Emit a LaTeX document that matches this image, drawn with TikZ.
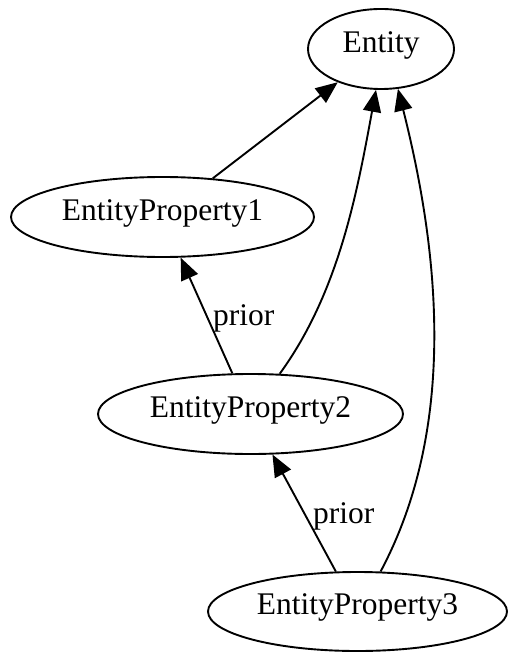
\documentclass[tikz,border=0pt]{standalone}
\usepackage{fontspec}
\setmainfont{Liberation Serif}
\usetikzlibrary{arrows.meta,shapes.geometric}
\begin{document}
\begin{tikzpicture}[x=1pt,y=-1pt,
  ent/.style={draw, ellipse, line width=1.9pt, inner sep=0pt,
    font=\fontsize{31.5}{36}\selectfont, text height=0.68em, text depth=0pt},
  arr/.style={line width=1.9pt, -{Triangle[length=22pt,width=18pt]}},
  lbl/.style={font=\fontsize{31.5}{36}\selectfont, anchor=base west, inner sep=0pt}]
\path[use as bounding box] (0,0) rectangle (508,652);
\node[ent, minimum width=146pt, minimum height=80pt] (e) at (381,49) {Entity};
\node[ent, minimum width=303pt, minimum height=80pt] (p1) at (162.5,217) {EntityProperty1};
\node[ent, minimum width=305pt, minimum height=80pt] (p2) at (250.5,414) {EntityProperty2};
\node[ent, minimum width=299pt, minimum height=79pt] (p3) at (357.5,611.5) {EntityProperty3};
\draw[arr] (p1) -- (e);
\draw[arr] (p2) -- (p1);
\draw[arr] (p3) -- (p2);
\draw[arr] (p2.54) .. controls (338.8,292.6) and (357,193) .. (e.-97);
\draw[arr] (p3.60) .. controls (460.9,420.8) and (436,240) .. (e.-67.5);
\node[lbl] (l1) at (213,325) {prior};
\node[lbl] (l2) at (313,523) {prior};
\end{tikzpicture}
\end{document}
